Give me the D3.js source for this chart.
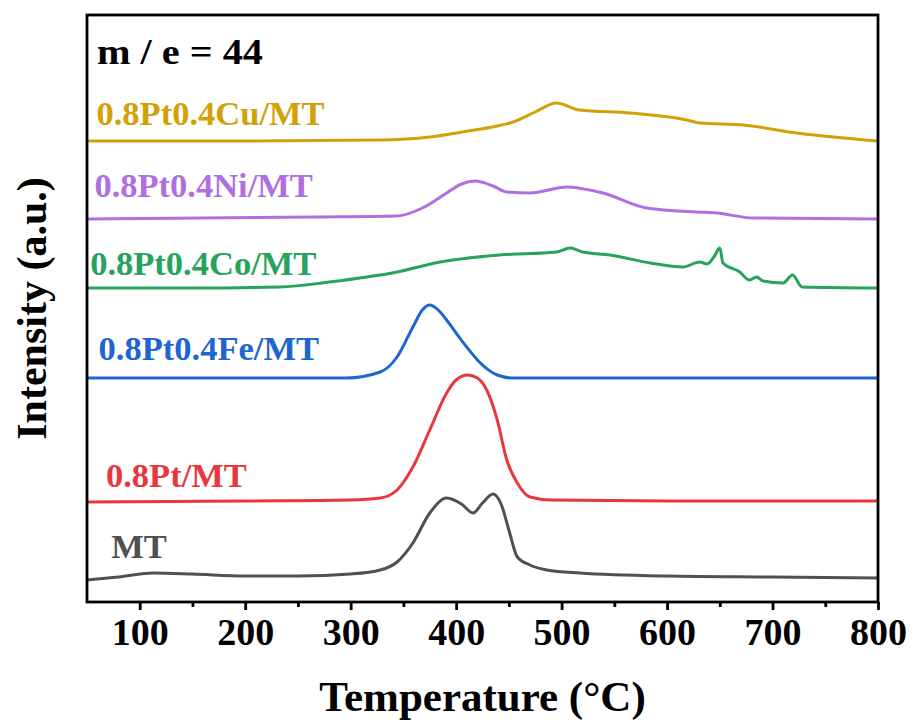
<!DOCTYPE html>
<html>
<head>
<meta charset="utf-8">
<script src="https://cdn.jsdelivr.net/npm/d3@7"></script>
<style>
  html, body { margin: 0; padding: 0; background: #ffffff; }
  svg { display: block; }
  text { font-family: "Liberation Serif", "Times New Roman", serif; font-weight: bold; }
</style>
</head>
<body>
<svg id="chart" width="914" height="722"></svg>
<script>
// ---------------- data (temperature °C, intensity a.u. with stacking offset) ----------------
const xTicks = [100, 200, 300, 400, 500, 600, 700, 800];
const xMinorTicks = [150, 250, 350, 450, 550, 650, 750];

const seriesNames = ["MT", "0.8Pt/MT", "0.8Pt0.4Fe/MT", "0.8Pt0.4Co/MT", "0.8Pt0.4Ni/MT", "0.8Pt0.4Cu/MT"];
const seriesColors = ["#505050", "#e8383d", "#1e66cf", "#26a35c", "#b06fe0", "#d1a106"];

const mtT = [50, 80, 113, 150, 200, 250, 300, 328, 344, 359, 375, 391, 405, 416, 425, 435, 443, 450, 458, 470, 486, 517, 600, 700, 800];
const mtI = [22, 25, 29, 28, 26, 26, 28, 32, 40, 59, 89, 104, 98, 89, 99, 108, 97, 72, 45, 37, 32, 29, 26, 25, 24];

const ptT = [50, 200, 300, 328, 344, 359, 375, 391, 400, 411, 420, 429, 439, 448, 458, 470, 490, 600, 800];
const ptI = [100, 101, 102, 104, 112, 135, 172, 209, 222, 227, 224, 212, 182, 142, 119, 105, 102, 101, 101];

const feT = [50, 296, 328, 344, 359, 368, 375, 383, 391, 400, 410, 422, 439, 454, 800];
const feI = [224, 224, 230, 245, 275, 292, 297, 292, 282, 269, 255, 240, 227, 224, 224];

const coT = [50, 150, 233, 280, 344, 385, 441, 495, 508, 520, 546, 584, 615, 631, 638, 645, 650, 653, 669, 678, 685, 691, 710, 719, 728, 800];
const coI = [314, 314, 315, 320, 330, 340, 347, 350, 354, 350, 347, 339, 335, 340, 338, 346, 354, 339, 330, 322, 325, 321, 319, 327, 315, 314];

const niT = [50, 264, 344, 368, 391, 405, 418, 435, 448, 470, 505, 539, 581, 628, 647, 681, 800];
const niI = [383, 385, 386, 394, 409, 418, 421, 416, 410, 409, 415, 409, 394, 390, 389, 384, 383];

const cuT = [50, 200, 328, 375, 406, 439, 454, 475, 495, 517, 565, 619, 631, 672, 723, 800];
const cuI = [461, 461, 462, 465, 470, 476, 480, 490, 499, 492, 489, 482, 479, 477, 469, 461];

const seriesT = [mtT, ptT, feT, coT, niT, cuT];
const seriesI = [mtI, ptI, feI, coI, niI, cuI];

// label anchor positions in data units (temperature, intensity)
const labelT = [73, 68, 61, 53, 57, 59];
const labelI = [44, 115, 242, 327, 405, 477];

// ---------------- drawing ----------------
const svg = d3.select("#chart");
const pLeft = 87, pRight = 878, pTop = 15, pBottom = 602;

const x = d3.scaleLinear().domain([50, 800]).range([pLeft, pRight]);
const y = d3.scaleLinear().domain([0, 587]).range([pBottom, pTop]);

const line = d3.line()
  .x(d => x(d[0]))
  .y(d => y(d[1]))
  .curve(d3.curveMonotoneX);

seriesNames.forEach((name, i) => {
  const pts = seriesT[i].map((t, j) => [t, seriesI[i][j]]);
  svg.append("path")
    .attr("d", line(pts))
    .attr("fill", "none")
    .attr("stroke", seriesColors[i])
    .attr("stroke-width", 3)
    .attr("stroke-linejoin", "round");
  svg.append("text")
    .attr("x", x(labelT[i]))
    .attr("y", y(labelI[i]))
    .attr("fill", seriesColors[i])
    .attr("font-size", 34.5)
    .text(name);
});

// frame
svg.append("rect")
  .attr("x", pLeft).attr("y", pTop)
  .attr("width", pRight - pLeft).attr("height", pBottom - pTop)
  .attr("fill", "none").attr("stroke", "#000").attr("stroke-width", 2.8);

// x axis
const xAxis = d3.axisBottom(x)
  .tickValues(xTicks)
  .tickSize(8)
  .tickPadding(8)
  .tickFormat(d3.format("d"));
const gx = svg.append("g").attr("transform", `translate(0,${pBottom})`).call(xAxis);
gx.select(".domain").remove();
gx.selectAll(".tick line").attr("stroke", "#000").attr("stroke-width", 2.8);
gx.selectAll(".tick text")
  .attr("font-size", 38)
  .attr("fill", "#000")
  .attr("dy", "0.71em");

const xMinor = d3.axisBottom(x).tickValues(xMinorTicks).tickSize(5).tickFormat("");
const gxm = svg.append("g").attr("transform", `translate(0,${pBottom})`).call(xMinor);
gxm.select(".domain").remove();
gxm.selectAll(".tick line").attr("stroke", "#000").attr("stroke-width", 2.8);

// annotation
svg.append("text")
  .attr("transform", "translate(97,64) scale(1.15,1)")
  .attr("fill", "#000")
  .attr("font-size", 35)
  .text("m / e = 44");

// axis titles
svg.append("text")
  .attr("x", (pLeft + pRight) / 2).attr("y", 711)
  .attr("text-anchor", "middle")
  .attr("font-size", 43)
  .attr("fill", "#000")
  .text("Temperature (°C)");

svg.append("text")
  .attr("transform", `translate(46,${(pTop + pBottom) / 2}) rotate(-90)`)
  .attr("text-anchor", "middle")
  .attr("font-size", 42)
  .attr("fill", "#000")
  .text("Intensity (a.u.)");
</script>
</body>
</html>
